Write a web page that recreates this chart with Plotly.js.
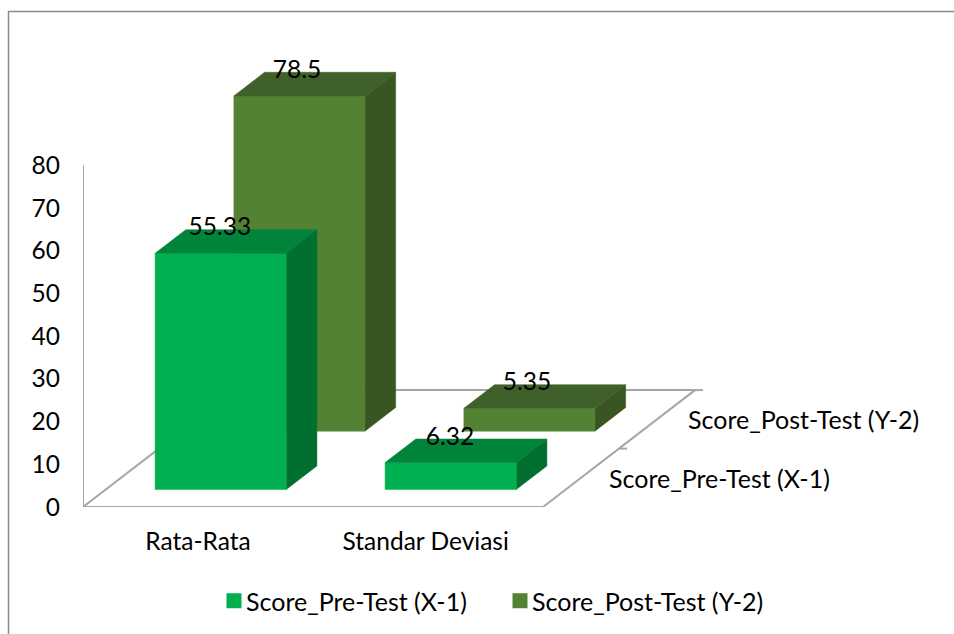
<!DOCTYPE html>
<html><head><meta charset="utf-8">
<script src="https://cdn.plot.ly/plotly-3.0.1.min.js"></script>
<style>html,body{margin:0;padding:0;background:#fff}#c{width:954px;height:634px}</style>
</head><body><div id="c"></div>
<script>
const categories = ["Rata-Rata", "Standar Deviasi"];
const seriesNames = ["Score_Pre-Test (X-1)", "Score_Post-Test (Y-2)"];
const preValues = [55.33, 6.32];
const postValues = [78.5, 5.35];
const yTicks = [0,10,20,30,40,50,60,70,80];
const colorsPre = {front:"#00B050", top:"#00843B", side:"#006F2F"};
const colorsPost = {front:"#548235", top:"#3F6129", side:"#385522"};
const FONT = "Lato, Carlito, sans-serif";
const FS = 24.5, FS2 = 25;

// oblique projection: category position u, value v, depth d -> axis coords
const dxPerDepth = 76/230, dyPerDepth = 58.5/4.275;
const proj = (u,v,d) => [u + d*dxPerDepth, v + d*dyPerDepth];
const halfW = 0.285, halfD = 0.202;

function face(corners){ return corners.map(c => proj(c[0],c[1],c[2])); }
function polyTrace(polys, color){
  const x=[], y=[];
  polys.forEach(p => { p.forEach(q => {x.push(q[0]); y.push(q[1]);}); x.push(p[0][0]); y.push(p[0][1]); x.push(null); y.push(null); });
  return {type:"scatter", mode:"lines", x, y, fill:"toself", fillcolor:color, line:{width:0.5,color:color},
    cliponaxis:false, showlegend:false, hoverinfo:"skip"};
}
function barTraces(values, depth, col, offs){
  const fronts=[], tops=[], sides=[];
  values.forEach((v,i)=>{
    const l=i+0.5+offs-halfW, r=i+0.5+offs+halfW, f=depth-halfD, b=depth+halfD;
    fronts.push(face([[l,0,f],[r,0,f],[r,v,f],[l,v,f]]));
    tops.push(face([[l,v,f],[r,v,f],[r,v,b],[l,v,b]]));
    sides.push(face([[r,0,f],[r,0,b],[r,v,b],[r,v,f]]));
  });
  return [polyTrace(sides,col.side), polyTrace(fronts,col.front), polyTrace(tops,col.top)];
}
function labelTrace(values, depth, offs){
  const pts = values.map((v,i)=>proj(i+0.5-0.07+offs, v, depth));
  return {type:"scatter", mode:"text", x:pts.map(p=>p[0]), y:pts.map(p=>p[1]),
    text:values.map(String), textposition:"top center",
    textfont:{family:FONT,size:FS,color:"#000"}, cliponaxis:false, showlegend:false, hoverinfo:"skip"};
}
const floorPts = [proj(0,0,0),proj(0,0,2),proj(2,0,2),proj(2,0,0),proj(0,0,0)];
const stub = 8/230;
const floorX=floorPts.map(p=>p[0]), floorY=floorPts.map(p=>p[1]);
[1,2].forEach(d=>{const p=proj(2,0,d); floorX.push(null,p[0],p[0]+stub); floorY.push(null,p[1],p[1]);});
floorX.push(null,0,0); floorY.push(null,yTicks[0],yTicks[yTicks.length-1]);
const floorTrace={type:"scatter",mode:"lines",x:floorX,y:floorY,line:{color:"#A6A6A6",width:2},cliponaxis:false,showlegend:false,hoverinfo:"skip"};

const legendDummy=(name,color)=>({type:"scatter",mode:"markers",x:[null],y:[null],name,
  marker:{symbol:"square",size:15,color},hoverinfo:"skip",showlegend:true});

const traces=[floorTrace,
  ...barTraces(postValues,1.5,colorsPost,0.012),
  ...barTraces(preValues,0.5,colorsPre,0),
  labelTrace(postValues,1.5,0.005), labelTrace(preValues,0.5,0),
  legendDummy(seriesNames[0],colorsPre.front), legendDummy(seriesNames[1],colorsPost.front)];

const depthLabel=(name,d,shift)=>{const p=proj(2,0,d);return {text:name,xref:"x",yref:"y",x:p[0],y:p[1],xanchor:"left",yanchor:"middle",
  xshift:shift,yshift:0,showarrow:false,font:{family:FONT,size:FS2,color:"#000"}};};

const L=83,W=954,H=634,B=507.5,unitX=230,unitY=4.275;
const layout={width:W,height:H,margin:{l:L,r:0,t:0,b:H-B,pad:0},paper_bgcolor:"#fff",plot_bgcolor:"rgba(0,0,0,0)",
  font:{family:FONT,size:FS,color:"#000"},
  xaxis:{range:[0,(W-L)/unitX],tickmode:"array",tickvals:[0.5,1.49],ticktext:categories,showgrid:false,zeroline:false,
    showline:false,ticks:"",ticklabelstandoff:17,fixedrange:true},
  yaxis:{range:[0,B/unitY],tickmode:"array",tickvals:yTicks,showgrid:false,zeroline:false,
    showline:false,ticks:"",ticklabelstandoff:22,fixedrange:true},
  legend:{orientation:"h",xref:"container",yref:"container",x:206/W,y:1-601/H,xanchor:"left",yanchor:"middle",
    entrywidthmode:"pixels",entrywidth:241,font:{family:FONT,size:FS2,color:"#000"},bgcolor:"rgba(0,0,0,0)"},
  annotations:[depthLabel(seriesNames[0],0.5,26),depthLabel(seriesNames[1],1.5,29)],
  shapes:[{type:"path",xref:"paper",yref:"paper",
    path:`M ${(8.5-L)/(W-L)} ${(B-640)/B} L ${(8.5-L)/(W-L)} ${(B-11.5)/B} L ${(960-L)/(W-L)} ${(B-11.5)/B}`,
    line:{color:"#8A8A8A",width:1.5},layer:"below"}]
};
Plotly.newPlot("c",traces,layout,{displayModeBar:false,staticPlot:true}).then(()=>{
  document.querySelectorAll(".legend .legendsymbols").forEach(g=>g.setAttribute("transform","translate(8,0)"));
});
</script></body></html>
